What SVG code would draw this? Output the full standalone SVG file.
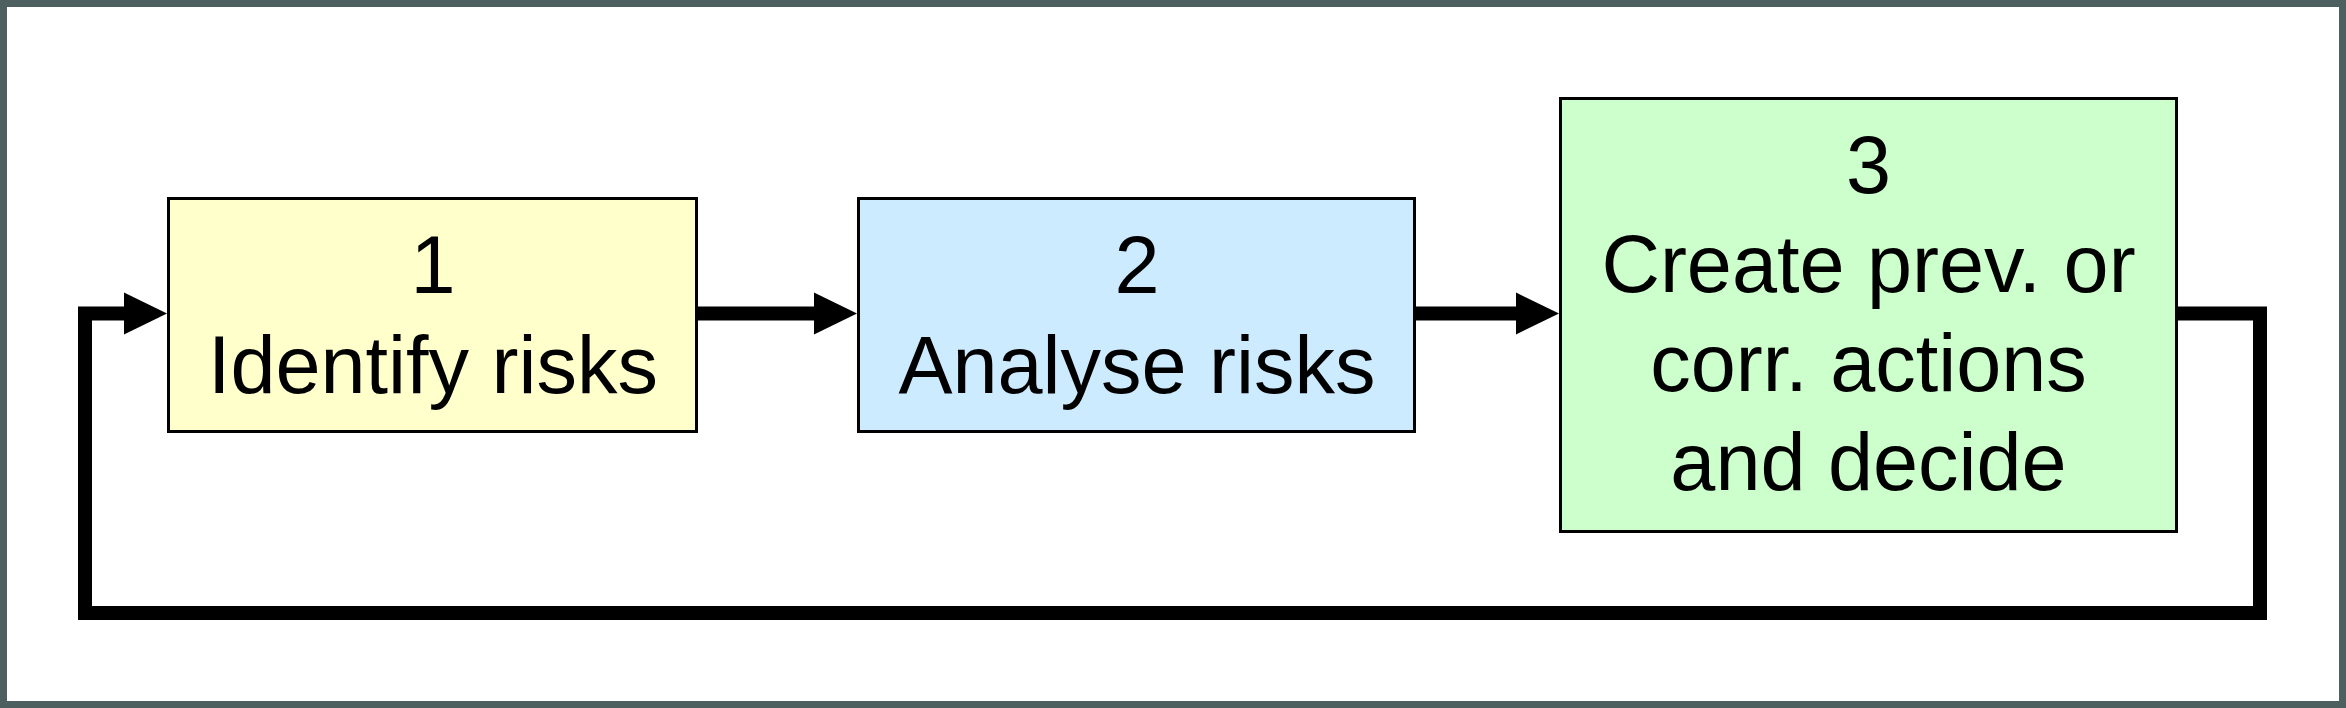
<svg xmlns="http://www.w3.org/2000/svg" width="2346" height="708" viewBox="0 0 2346 708">
<style>
.box{stroke:#000;stroke-width:3}
.lbl{font-family:"Liberation Sans",Arial,sans-serif;font-size:81px;fill:#000;text-anchor:middle}
.conn{fill:none;stroke:#000;stroke-width:14;stroke-linejoin:miter}
</style>
<defs>
<marker id="ah" markerUnits="userSpaceOnUse" markerWidth="44" markerHeight="42" refX="0" refY="21" orient="auto" overflow="visible">
<path d="M0,0 L43,21 L0,42 Z" fill="#000"/>
</marker>
</defs>
<rect x="3.5" y="3.5" width="2339" height="701" fill="#fff" stroke="#4d605f" stroke-width="7"/>
<g id="connectors">
<path class="conn" d="M698,313.5 H814" marker-end="url(#ah)"/>
<path class="conn" d="M1416,313.5 H1516" marker-end="url(#ah)"/>
<path class="conn" d="M2178,313.5 H2260 V613 H85 V313.5 H124" marker-end="url(#ah)"/>
</g>
<g id="node1">
<rect class="box" x="168.5" y="198.5" width="528" height="233" fill="#ffffcc"/>
<text class="lbl" x="433" y="293">1</text>
<text class="lbl" x="433" y="393">Identify risks</text>
</g>
<g id="node2">
<rect class="box" x="858.5" y="198.5" width="556" height="233" fill="#ccebff"/>
<text class="lbl" x="1137" y="293">2</text>
<text class="lbl" x="1137" y="393">Analyse risks</text>
</g>
<g id="node3">
<rect class="box" x="1560.5" y="98.5" width="616" height="433" fill="#ccffcc"/>
<text class="lbl" x="1868.5" y="193">3</text>
<text class="lbl" x="1868.5" y="292">Create prev. or</text>
<text class="lbl" x="1868.5" y="391">corr. actions</text>
<text class="lbl" x="1868.5" y="490">and decide</text>
</g>
</svg>
